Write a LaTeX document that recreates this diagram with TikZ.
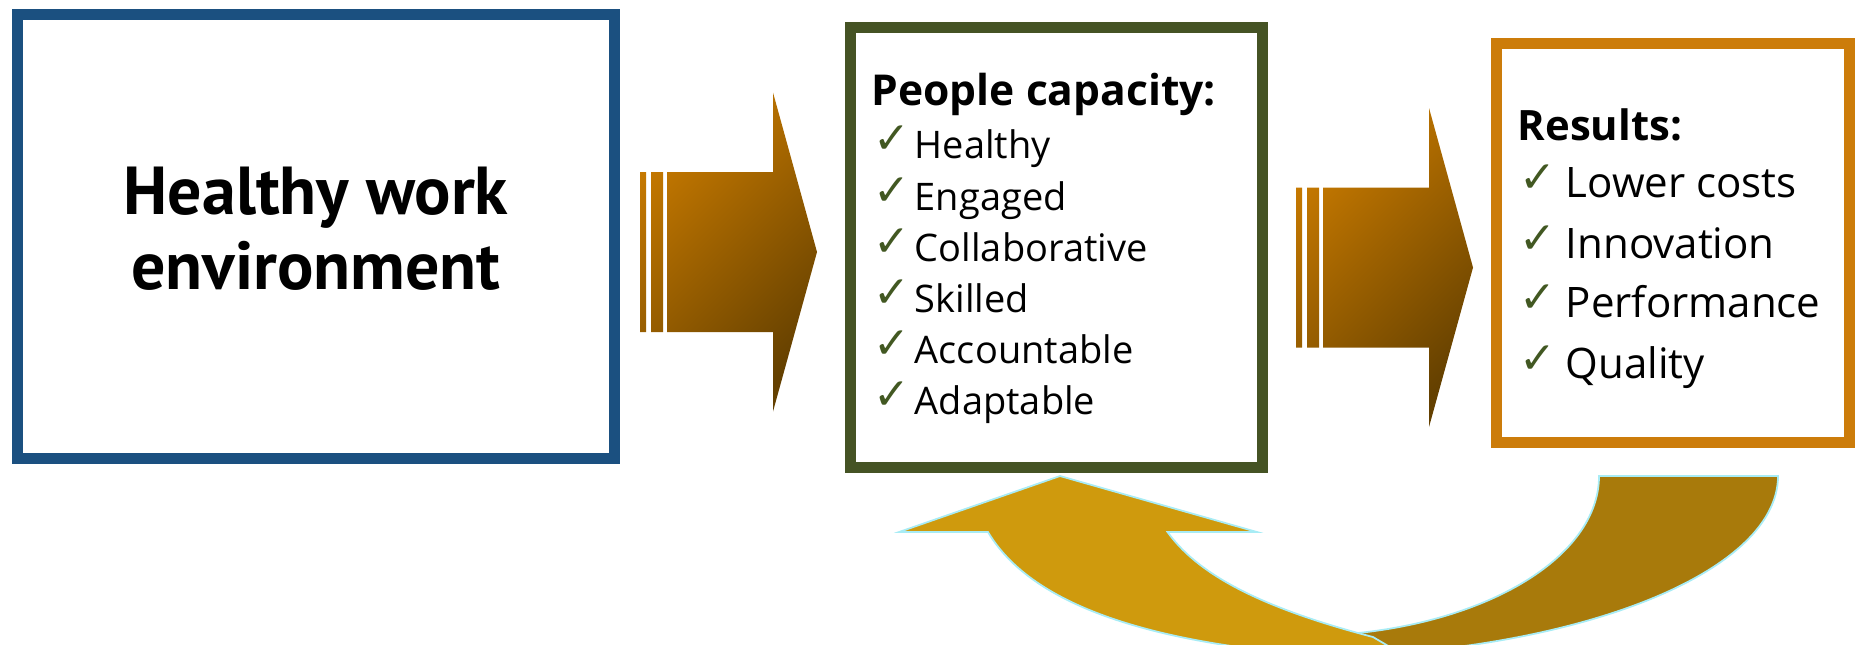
\documentclass[tikz,border=0pt]{standalone}
\usepackage{fontspec}
\setmainfont{Open Sans}
\newfontfamily\headfont{PT Sans}
\newfontfamily\symfont{DejaVu Sans}
\usetikzlibrary{positioning}

\definecolor{envblue}{RGB}{27,80,128}
\definecolor{peoplegreen}{RGB}{69,83,36}
\definecolor{resorange}{RGB}{204,124,10}
\definecolor{tick}{RGB}{66,88,34}
\definecolor{arrowlight}{RGB}{200,122,0}
\definecolor{arrowdark}{RGB}{100,64,0}
\definecolor{looplight}{RGB}{207,154,13}
\definecolor{loopdark}{RGB}{168,122,11}
\definecolor{rim}{RGB}{168,236,245}

% green tick in front of each list entry
\newcommand{\chk}[1]{\makebox[#1][l]{\raisebox{1.2pt}{\symfont\fontsize{12.5pt}{12.5pt}\selectfont\textcolor{tick}{✓}}}}

\begin{document}
\begin{tikzpicture}[x=0.01cm, y=-0.01cm,
   box/.style={draw=#1, line width=0.11cm, fill=white, inner sep=0pt},
   item/.style={anchor=base west, inner sep=0pt},
   fatarrow/.pic={
      \shade[top color=arrowlight, bottom color=arrowdark, shading angle=45]
         (0,-80) rectangle (6,80) (11,-80) rectangle (23,80)
         (27,-80) -- (133,-80) -- (133,-159.5) -- (177,0) -- (133,159.5) -- (133,80) -- (27,80) -- cycle;
   },
   loop/.style={draw=rim, line width=0.5pt}]
   \clip (0,0) rectangle (1855,644);

   % the three boxes
   \node[box=envblue, minimum width=5.97cm, minimum height=4.44cm] (env) at (316,236.5) {};
   \node[align=center, font=\headfont\bfseries\fontsize{19.3pt}{21.3pt}\selectfont] (envtext) at (316,229)
         {Healthy work\\environment};
   \node[box=peoplegreen, minimum width=4.12cm, minimum height=4.40cm] (people) at (1056.5,247.5) {};
   \node[box=resorange, minimum width=3.53cm, minimum height=3.99cm] (results) at (1673,243) {};

   % list in the middle box
   \node[item, font=\bfseries\fontsize{12.1pt}{14pt}\selectfont] (pc0) at (871,105) {People capacity:};
   \node[item, font=\fontsize{10.8pt}{13pt}\selectfont] (pc1) at (873,158) {\chk{11.7pt}Healthy};
   \node[item, font=\fontsize{10.8pt}{13pt}\selectfont] (pc2) at (873,210) {\chk{11.7pt}Engaged};
   \node[item, font=\fontsize{10.8pt}{13pt}\selectfont] (pc3) at (873,261) {\chk{11.7pt}Collaborative};
   \node[item, font=\fontsize{10.8pt}{13pt}\selectfont] (pc4) at (873,312) {\chk{11.7pt}Skilled};
   \node[item, font=\fontsize{10.8pt}{13pt}\selectfont] (pc5) at (873,363) {\chk{11.7pt}Accountable};
   \node[item, font=\fontsize{10.8pt}{13pt}\selectfont] (pc6) at (873,414) {\chk{11.7pt}Adaptable};

   % list in the right box
   \node[item, font=\bfseries\fontsize{11.9pt}{14pt}\selectfont] (res0) at (1517,140) {Results:};
   \node[item, font=\fontsize{11.95pt}{14pt}\selectfont] (res1) at (1519,197) {\chk{13.1pt}Lower costs};
   \node[item, font=\fontsize{11.95pt}{14pt}\selectfont] (res2) at (1519,258) {\chk{13.1pt}Innovation};
   \node[item, font=\fontsize{11.95pt}{14pt}\selectfont] (res3) at (1519,317) {\chk{13.1pt}Performance};
   \node[item, font=\fontsize{11.95pt}{14pt}\selectfont] (res4) at (1519,378) {\chk{13.1pt}Quality};

   % block arrows between the boxes
   \pic at (640,252) {fatarrow};
   \pic at (1296,267.5) {fatarrow};

   % feedback arrow back to the middle box
   \filldraw[loop, fill=loopdark] (1599,476) -- (1778,476)
      arc[start angle=0, end angle=90, x radius=478, y radius=181] -- (1300,636)
      arc[start angle=90, end angle=0, x radius=299, y radius=160] -- cycle;
   \filldraw[loop, fill=looplight] (1060,476) -- (1257,532) -- (1167.5,532)
      .. controls (1195,570) and (1250,605) .. (1373,637) -- (1412,660)
      .. controls (1200,655) and (1040,620) .. (988,532) -- (899,532) -- cycle;
\end{tikzpicture}
\end{document}
